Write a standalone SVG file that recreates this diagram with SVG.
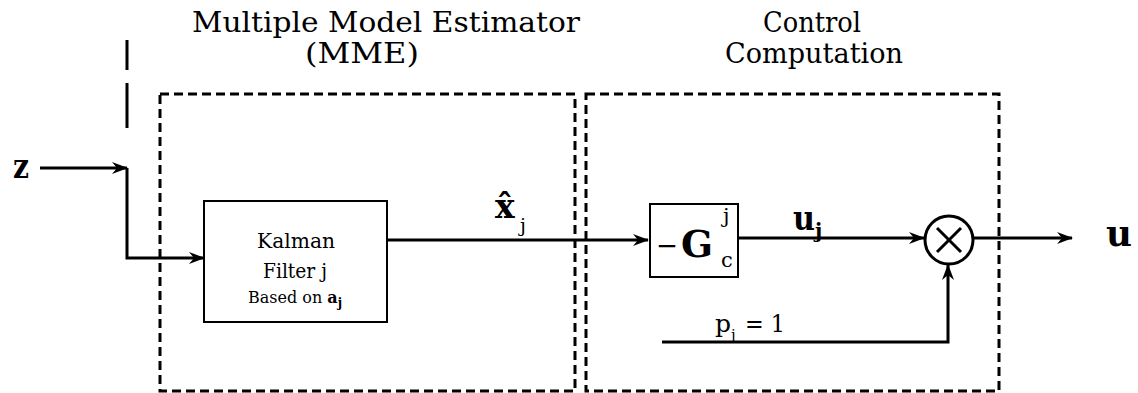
<svg xmlns="http://www.w3.org/2000/svg" width="1138" height="393" viewBox="0 0 1138 393">
<style>
text{font-family:"DejaVu Serif",serif;fill:#000}
.dash{fill:none;stroke:#000;stroke-width:3;stroke-dasharray:9,5}
.ln{fill:none;stroke:#000;stroke-width:3}
.box{fill:#fff;stroke:#000;stroke-width:2}
.b{font-weight:bold}
</style>
<defs>
<marker id="ah" markerWidth="16" markerHeight="12" refX="15" refY="6" orient="auto" markerUnits="userSpaceOnUse">
<path d="M0,0 L16,6 L0,12 L5,6 Z" fill="#000"/>
</marker>
</defs>
<rect width="1138" height="393" fill="#fff"/>
<g id="titles">
<text x="192" y="32" font-size="27" textLength="388" lengthAdjust="spacingAndGlyphs">Multiple Model Estimator</text>
<text x="305" y="63" font-size="27" textLength="114" lengthAdjust="spacingAndGlyphs">(MME)</text>
<text x="763" y="32" font-size="27" textLength="98" lengthAdjust="spacingAndGlyphs">Control</text>
<text x="725" y="63" font-size="27" textLength="178" lengthAdjust="spacingAndGlyphs">Computation</text>
</g>
<g id="mme-region"><rect class="dash" x="160" y="94" width="415" height="297"/></g>
<g id="control-region"><rect class="dash" x="586" y="94" width="413" height="297"/></g>
<g id="connectors">
<line x1="127" y1="40" x2="127" y2="128" fill="none" stroke="#000" stroke-width="3" stroke-dasharray="30,13,45"/>
<line class="ln" x1="40" y1="168" x2="127" y2="168" marker-end="url(#ah)"/>
<polyline class="ln" points="127,168 127,258 204,258" marker-end="url(#ah)"/>
<line class="ln" x1="388" y1="240" x2="648" y2="240" marker-end="url(#ah)"/>
<line class="ln" x1="738" y1="238" x2="924" y2="238" marker-end="url(#ah)"/>
<line class="ln" x1="974" y1="238" x2="1072" y2="238" marker-end="url(#ah)"/>
<polyline class="ln" points="662,342 948,342 948,265" marker-end="url(#ah)"/>
</g>
<g id="z-label"><text x="13" y="178" font-size="34" class="b" textLength="16" lengthAdjust="spacingAndGlyphs">z</text></g>
<g id="kalman">
<rect class="box" x="204" y="201" width="183" height="121"/>
<text x="257" y="248" font-size="21" textLength="78" lengthAdjust="spacingAndGlyphs">Kalman</text>
<text x="263" y="278" font-size="21" textLength="64" lengthAdjust="spacingAndGlyphs">Filter j</text>
<text x="248" y="303" font-size="16">Based on <tspan class="b">a</tspan><tspan class="b" font-size="12" dy="4">j</tspan></text>
</g>
<g id="xhat-label">
<text x="495" y="218" font-size="33" class="b">x̂</text>
<text x="520" y="232" font-size="19">j</text>
</g>
<g id="gain">
<rect class="box" x="650" y="204" width="88" height="73"/>
<text x="656" y="255" font-size="28" textLength="22" lengthAdjust="spacingAndGlyphs">−</text>
<text x="681" y="257" font-size="38" class="b" textLength="32" lengthAdjust="spacingAndGlyphs">G</text>
<text x="723" y="223" font-size="21">j</text>
<text x="721" y="267" font-size="21">c</text>
</g>
<g id="uj-label"><text x="793" y="230" font-size="33" class="b" textLength="22" lengthAdjust="spacingAndGlyphs">u</text><text x="815" y="238" font-size="20" class="b">j</text></g>
<g id="multiplier">
<circle cx="949" cy="240" r="24" fill="#fff" stroke="#000" stroke-width="3"/>
<line class="ln" x1="937" y1="228" x2="961" y2="252"/>
<line class="ln" x1="961" y1="228" x2="937" y2="252"/>
</g>
<g id="pj-label">
<text x="715" y="332" font-size="25">p</text>
<text x="731" y="340" font-size="15">j</text>
<text x="745" y="332" font-size="25" textLength="40" lengthAdjust="spacingAndGlyphs">= 1</text>
</g>
<g id="u-label"><text x="1106" y="246" font-size="35" class="b" textLength="26" lengthAdjust="spacingAndGlyphs">u</text></g>
</svg>
